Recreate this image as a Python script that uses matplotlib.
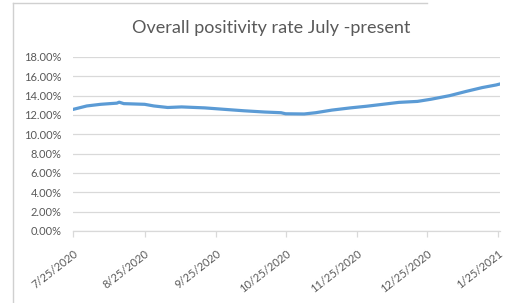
import datetime as dt

import matplotlib
matplotlib.use("Agg")
import matplotlib.pyplot as plt
import matplotlib.dates as mdates
from matplotlib.lines import Line2D
from matplotlib.ticker import FuncFormatter

# positivity rate (%)
dates = [
    "2020-07-25", "2020-07-31", "2020-08-06", "2020-08-10", "2020-08-13",
    "2020-08-14", "2020-08-16", "2020-08-25", "2020-08-29", "2020-09-04",
    "2020-09-10", "2020-09-20", "2020-09-29", "2020-10-07", "2020-10-16",
    "2020-10-23", "2020-10-25", "2020-11-02", "2020-11-07", "2020-11-14",
    "2020-11-22", "2020-11-29", "2020-12-06", "2020-12-13", "2020-12-21",
    "2020-12-27", "2021-01-04", "2021-01-11", "2021-01-18", "2021-01-24",
    "2021-01-26",
]
rate = [
    12.57, 12.93, 13.10, 13.17, 13.22,
    13.32, 13.17, 13.10, 12.93, 12.77,
    12.83, 12.73, 12.57, 12.43, 12.30,
    12.23, 12.12, 12.10, 12.23, 12.50,
    12.73, 12.90, 13.10, 13.30, 13.40,
    13.63, 14.00, 14.43, 14.83, 15.10,
    15.22,
]
tick_dates = ["2020-07-25", "2020-08-25", "2020-09-25", "2020-10-25",
              "2020-11-25", "2020-12-25", "2021-01-25"]
y_ticks = [0, 2, 4, 6, 8, 10, 12, 14, 16, 18]

title = "Overall positivity rate July -present"

x = [dt.datetime.strptime(d, "%Y-%m-%d") for d in dates]
xt = [dt.datetime.strptime(d, "%Y-%m-%d") for d in tick_dates]

plt.rcParams["font.family"] = ["Lato", "DejaVu Sans"]
grey = "#595959"

fig = plt.figure(figsize=(5.21, 3.03), dpi=100)
fig.patch.set_facecolor("white")
ax = fig.add_axes([0.140, 0.238, 0.820, 0.574])

ax.plot(x, rate, color="#5B9BD5", linewidth=2.3, solid_capstyle="round",
        solid_joinstyle="round")

ax.set_ylim(0, 18)
ax.set_yticks(y_ticks)
ax.yaxis.set_major_formatter(FuncFormatter(lambda v, p: f"{v:.2f}%"))
ax.set_xlim(xt[0], xt[-1] + dt.timedelta(days=0.8))
ax.set_xticks(xt)
ax.xaxis.set_major_formatter(
    FuncFormatter(lambda v, p: "{d.month}/{d.day}/{d.year}".format(d=mdates.num2date(v))))

ax.grid(axis="y", color="#D9D9D9", linewidth=0.9)
ax.set_axisbelow(True)
for side in ["left", "right", "top"]:
    ax.spines[side].set_visible(False)
ax.spines["bottom"].set_color("#D9D9D9")
ax.spines["bottom"].set_linewidth(0.9)

ax.tick_params(axis="y", length=0, labelsize=8, labelcolor=grey, pad=8)
ax.tick_params(axis="x", length=4, width=0.9, color="#D9D9D9",
               labelsize=8, labelcolor=grey, pad=8)
for lab in ax.get_xticklabels():
    lab.set_rotation(38)
    lab.set_ha("right")
    lab.set_rotation_mode("anchor")

fig.text(0.521, 0.908, title, ha="center", va="center",
         fontsize=13, color=grey)

# screenshot frame around the chart
fig.add_artist(Line2D([0.025, 0.025], [0.0, 0.99], color="#D0D0D0", linewidth=1.0))
fig.add_artist(Line2D([0.025, 0.82], [0.99, 0.99], color="#D0D0D0", linewidth=1.0))

fig.savefig("out.png", dpi=100)
